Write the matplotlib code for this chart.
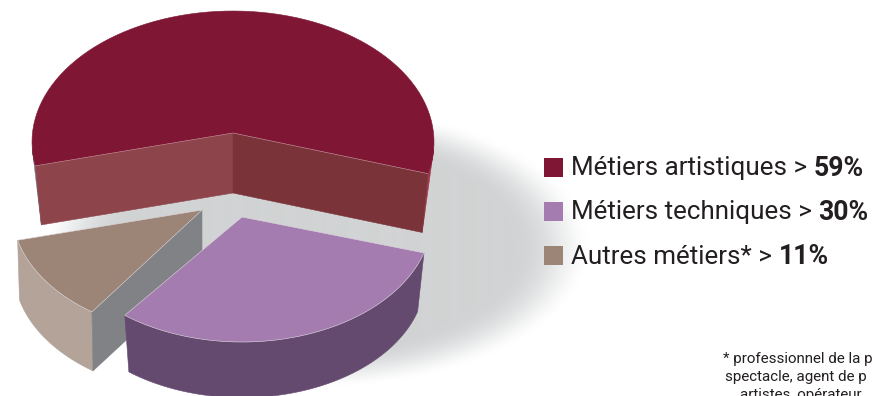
import numpy as np
import matplotlib
matplotlib.use("Agg")
import matplotlib.pyplot as plt
from matplotlib.patches import Polygon, Rectangle

labels = ["Métiers artistiques >", "Métiers techniques >", "Autres métiers* >"]
values = [59, 30, 11]
value_labels = ["59%", "30%", "11%"]
top_colors = ["#7f1734", "#a47cb0", "#9c8577"]
wall_colors = ["#a03a4a", "#654a70", "#b3a398"]
cut_colors = ["#7a3339", "#654a70", "#808285"]
cut_left_color = "#8e444b"
apexes = [(233, 133), (242, 217), (202, 210)]
arc_centers = [(233, 142), (242, 217), (202, 210)]
radii = [(201, 131), (190, 125), (190, 125)]
angle_pads = [(-3.5, -4.4), (1.7, 1.7), (1.0, 0.0)]
scales = [0.97, 0.965, 0.99]
footnote = ["* professionnel de la p", "spectacle, agent de p", "artistes, opérateur,"]
foot_x = [723, 725, 740]
foot_y = [357, 375, 393]
START = 194.0
DEPTH = 60

fig = plt.figure(figsize=(8.72, 3.96), dpi=100)
ax = fig.add_axes([0, 0, 1, 1])
ax.axis("off")

# soft shadow
xx, yy = np.meshgrid(np.arange(872) + .5, np.arange(396) + .5)
r = np.hypot((xx - 316) / 272, (yy - 247) / 140)
a = np.clip((1.0 - r) / 0.27, 0, 1) ** 0.8
a = a * a * (3 - 2 * a)
grey = np.array([209, 211, 212]) / 255
img = 1 - a[..., None] * (1 - grey)
ax.imshow(img, extent=(0, 872, 396, 0), aspect="auto", zorder=0, interpolation="bilinear")
ax.set_xlim(0, 872)
ax.set_ylim(396, 0)

def arc(c, rad, t0, t1):
    t = np.radians(np.linspace(t0, t1, 80))
    return np.c_[c[0] + rad[0] * np.cos(t), c[1] - rad[1] * np.sin(t)]

def lower(pts, apex, s):
    """Bottom rim of the slice: shrunk towards the apex and moved down."""
    pts = np.atleast_2d(pts)
    return np.c_[apex[0] + s * (pts[:, 0] - apex[0]), apex[1] + s * (pts[:, 1] - apex[1]) + DEPTH]

def poly(pts, color, z):
    ax.add_patch(Polygon(pts, closed=True, facecolor=color, zorder=z,
                         edgecolor=color, linewidth=0.4, joinstyle="round"))

t = START
order = {0: 1, 2: 5, 1: 10}
for i, v in enumerate(values):
    t0, t1 = t + angle_pads[i][0], t - 3.6 * v - angle_pads[i][1]
    t = t - 3.6 * v
    c, rad, ap, s = arc_centers[i], radii[i], apexes[i], scales[i]
    base = order[i]
    p0 = arc(c, rad, t0, t0)[0]
    p1 = arc(c, rad, t1, t1)[0]
    q0 = lower(p0, ap, s)[0]
    q1 = lower(p1, ap, s)[0]
    bc = (ap[0], ap[1] + DEPTH)
    if i == 0:
        poly(np.r_[arc(c, rad, t1, -3), [q1]], wall_colors[0], base)
        poly(np.r_[arc(c, rad, 183, t0), [q0]], "#77777c", base)
        poly([ap, p0, q0, bc], cut_left_color, base + 2)
        poly([ap, p1, q1, bc], cut_colors[0], base + 2)
    else:
        rim = arc(c, rad, t0, t1)
        poly(np.r_[rim, lower(rim, ap, s)[::-1]], wall_colors[i], base + 1)
    if i == 2:
        poly([ap, p0, q0, bc], cut_colors[2], base + 2)
    top = np.r_[[ap], arc(c, rad, t0, t1)]
    edge = top_colors[0] if i == 0 else "#ddd5dd"
    ax.add_patch(Polygon(top, closed=True, facecolor=top_colors[i], edgecolor=edge,
                         linewidth=0.4, zorder=base + 3))
    if i == 0:
        ax.plot([p0[0], ap[0], p1[0]], [p0[1], ap[1], p1[1]], color="#c9a3a8", lw=0.4, zorder=base + 4)

# legend
fig.canvas.draw()
rend = fig.canvas.get_renderer()
for i, (lab, val, y) in enumerate(zip(labels, value_labels, [167, 211, 255])):
    ax.add_patch(Rectangle((544, y - 9.5), 19, 19, facecolor=top_colors[i], edgecolor="none", zorder=20))
    tx = ax.text(571, y + 8.5, lab, family="Roboto", fontsize=18.7, color="#231f20",
                 va="baseline", ha="left", zorder=20)
    bb = tx.get_window_extent(rend)
    ax.text(bb.x1 + 6.5, y + 8.5, val, family="Roboto", fontweight="bold", fontsize=19.2, color="#231f20",
            va="baseline", ha="left", zorder=20)

for s, x, y in zip(footnote, foot_x, foot_y):
    ax.text(x, y, s, family="Roboto", fontsize=10.9, color="#231f20", va="center_baseline", ha="left", zorder=20)

fig.savefig("out.png", dpi=100)
